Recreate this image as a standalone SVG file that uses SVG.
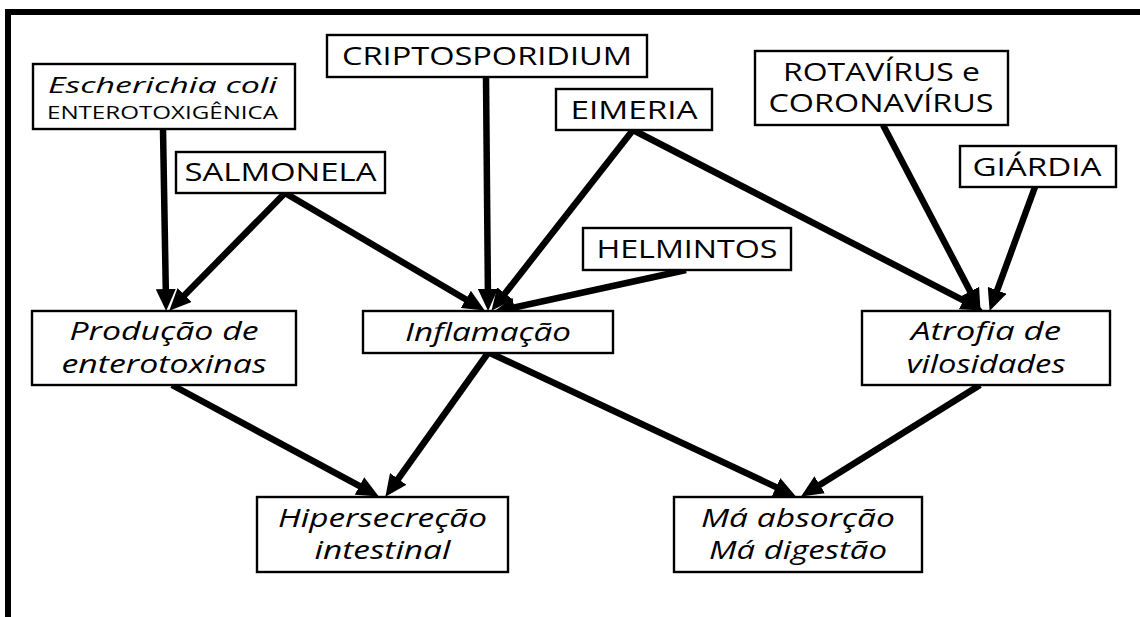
<svg xmlns="http://www.w3.org/2000/svg" width="1140" height="617" viewBox="0 0 1140 617">
<style>
.box{fill:#fff;stroke:#000;stroke-width:2.4}
.t{font-family:"Open Sans","Liberation Sans",sans-serif;fill:#000;text-anchor:middle}
.up{font-size:25px}
.it{font-size:25px;font-style:italic}
.c{fill:none;stroke:#000;stroke-width:6.5}
.frame{stroke:#000;stroke-width:6;fill:none}
</style>
<defs>
<marker id="ah" markerUnits="userSpaceOnUse" markerWidth="22" markerHeight="20" viewBox="0 0 22 20" refX="13" refY="10" orient="auto">
<path d="M0,0 L22,10 L0,20 z" fill="#000"/>
</marker>
</defs>
<rect width="1140" height="617" fill="#fff"/>
<g id="frame">
<line class="frame" x1="5" y1="12" x2="1140" y2="12"/>
<line class="frame" x1="8" y1="9" x2="8" y2="617"/>
</g>
<g id="connectors">
<line class="c" x1="163" y1="129" x2="166" y2="302" marker-end="url(#ah)"/>
<line class="c" x1="285" y1="193" x2="175.6" y2="304.3" marker-end="url(#ah)"/>
<line class="c" x1="285" y1="193" x2="477" y2="306" marker-end="url(#ah)"/>
<line class="c" x1="486" y1="77" x2="488" y2="302" marker-end="url(#ah)"/>
<line class="c" x1="633" y1="130" x2="497" y2="303.7" marker-end="url(#ah)"/>
<line class="c" x1="633" y1="130" x2="975" y2="306.3" marker-end="url(#ah)"/>
<line class="c" x1="686" y1="270" x2="501.8" y2="310.3" marker-end="url(#ah)"/>
<line class="c" x1="883" y1="125" x2="976.3" y2="302.9" marker-end="url(#ah)"/>
<line class="c" x1="1035" y1="187" x2="992.7" y2="302.5" marker-end="url(#ah)"/>
<line class="c" x1="172" y1="385" x2="370.9" y2="492.2" marker-end="url(#ah)"/>
<line class="c" x1="488" y1="353" x2="390.6" y2="489.5" marker-end="url(#ah)"/>
<line class="c" x1="490" y1="353" x2="787.8" y2="492.6" marker-end="url(#ah)"/>
<line class="c" x1="980" y1="385" x2="808.7" y2="491.7" marker-end="url(#ah)"/>
</g>
<g id="ecoli">
<rect class="box" x="33" y="64" width="262" height="65"/>
<text class="t it" x="162.5" y="93" style="font-size:21px" textLength="229" lengthAdjust="spacingAndGlyphs">Escherichia coli</text>
<text class="t" x="162.5" y="119" style="font-size:18px" textLength="231" lengthAdjust="spacingAndGlyphs">ENTEROTOXIGÊNICA</text>
</g>
<g id="salmonela">
<rect class="box" x="176" y="152" width="209" height="41"/>
<text class="t up" x="280.5" y="181" textLength="192" lengthAdjust="spacingAndGlyphs">SALMONELA</text>
</g>
<g id="cripto">
<rect class="box" x="327" y="35" width="320" height="42"/>
<text class="t up" x="487" y="65" textLength="290" lengthAdjust="spacingAndGlyphs">CRIPTOSPORIDIUM</text>
</g>
<g id="eimeria">
<rect class="box" x="556" y="89" width="156" height="41"/>
<text class="t up" x="634" y="118.5" textLength="127" lengthAdjust="spacingAndGlyphs">EIMERIA</text>
</g>
<g id="rotavirus">
<rect class="box" x="755" y="51" width="253" height="74"/>
<text class="t up" x="881.5" y="81" textLength="197" lengthAdjust="spacingAndGlyphs">ROTAVÍRUS e</text>
<text class="t up" x="881" y="112" textLength="225" lengthAdjust="spacingAndGlyphs">CORONAVÍRUS</text>
</g>
<g id="giardia">
<rect class="box" x="960" y="146" width="156" height="41"/>
<text class="t up" x="1037" y="175.5" textLength="129" lengthAdjust="spacingAndGlyphs">GIÁRDIA</text>
</g>
<g id="helmintos">
<rect class="box" x="583" y="228" width="208" height="42"/>
<text class="t up" x="687" y="258" textLength="181" lengthAdjust="spacingAndGlyphs">HELMINTOS</text>
</g>
<g id="producao">
<rect class="box" x="32" y="311" width="264" height="74"/>
<text class="t it" x="164" y="340" textLength="189" lengthAdjust="spacingAndGlyphs">Produção de</text>
<text class="t it" x="164" y="373" textLength="205" lengthAdjust="spacingAndGlyphs">enterotoxinas</text>
</g>
<g id="inflamacao">
<rect class="box" x="363" y="311" width="250" height="42"/>
<text class="t it" x="488" y="341" textLength="166" lengthAdjust="spacingAndGlyphs">Inflamação</text>
</g>
<g id="atrofia">
<rect class="box" x="862" y="311" width="248" height="74"/>
<text class="t it" x="986" y="340" textLength="150" lengthAdjust="spacingAndGlyphs">Atrofia de</text>
<text class="t it" x="986" y="373" textLength="159" lengthAdjust="spacingAndGlyphs">vilosidades</text>
</g>
<g id="hipersecrecao">
<rect class="box" x="257" y="497" width="251" height="75"/>
<text class="t it" x="382.5" y="527" textLength="209" lengthAdjust="spacingAndGlyphs">Hipersecreção</text>
<text class="t it" x="382.5" y="559" textLength="136" lengthAdjust="spacingAndGlyphs">intestinal</text>
</g>
<g id="maabsorcao">
<rect class="box" x="674" y="497" width="248" height="75"/>
<text class="t it" x="798" y="527" textLength="194" lengthAdjust="spacingAndGlyphs">Má absorção</text>
<text class="t it" x="798" y="559" textLength="178" lengthAdjust="spacingAndGlyphs">Má digestão</text>
</g>
</svg>
